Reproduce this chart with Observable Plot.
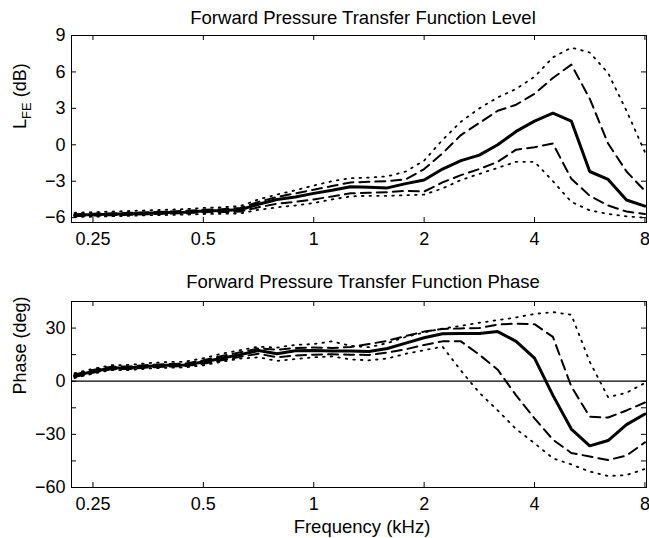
<!DOCTYPE html>
<html>
<head>
<meta charset="utf-8">
<script src="https://cdn.jsdelivr.net/npm/d3@7"></script>
<script src="https://cdn.jsdelivr.net/npm/@observablehq/plot@0.6"></script>
<style>
  body { margin: 0; background: #fff; }
  #chart svg { display: block; }
</style>
</head>
<body>
<div id="chart"></div>
<script>
// 1/6-octave analysis frequencies (kHz)
const freqKHz = [0.2227, 0.25, 0.2806, 0.315, 0.3536, 0.3969, 0.4454, 0.5, 0.5612, 0.63, 0.7071, 0.7937, 0.8909, 1, 1.1225, 1.2599, 1.4142, 1.5874, 1.7818, 2, 2.2449, 2.5198, 2.8284, 3.1748, 3.5636, 4, 4.4898, 5.0397, 5.6569, 6.3496, 7.1272, 8];
const xTickValues = [0.25, 0.5, 1, 2, 4, 8];
const xTickLabels = ["0.25", "0.5", "1", "2", "4", "8"];

// Level panel (dB)
const levelMean    = [-5.8, -5.75, -5.72, -5.68, -5.63, -5.58, -5.55, -5.45, -5.42, -5.35, -4.9, -4.5, -4.3, -4.0, -3.75, -3.45, -3.5, -3.55, -3.2, -2.9, -2.0, -1.3, -0.85, 0.0, 1.1, 1.95, 2.6, 1.95, -2.2, -2.85, -4.55, -5.05];
const levelPlusSD  = [-5.72, -5.68, -5.64, -5.6, -5.55, -5.5, -5.45, -5.35, -5.3, -5.2, -4.7, -4.3, -4.0, -3.7, -3.4, -3.1, -3.05, -3.0, -2.85, -2.0, -0.7, 0.8, 1.8, 2.8, 3.3, 4.2, 5.5, 6.6, 3.8, 0.1, -2.2, -3.8];
const levelMinusSD = [-5.88, -5.83, -5.8, -5.76, -5.72, -5.67, -5.64, -5.55, -5.54, -5.5, -5.15, -4.85, -4.7, -4.5, -4.25, -4.0, -3.95, -3.9, -3.8, -3.85, -3.1, -2.5, -2.0, -1.4, -0.4, -0.2, 0.1, -2.8, -4.2, -5.0, -5.5, -5.7];
const levelUpper   = [-5.6, -5.55, -5.5, -5.45, -5.4, -5.35, -5.3, -5.2, -5.15, -5.05, -4.5, -4.1, -3.75, -3.35, -3.0, -2.75, -2.7, -2.6, -2.2, -1.3, 0.4, 1.9, 3.0, 3.9, 4.6, 5.6, 7.2, 8.0, 7.6, 5.9, 2.8, -0.6];
const levelLower   = [-5.95, -5.92, -5.88, -5.85, -5.8, -5.78, -5.75, -5.7, -5.68, -5.65, -5.35, -5.15, -5.0, -4.8, -4.5, -4.25, -4.2, -4.2, -4.15, -4.1, -3.6, -2.9, -2.4, -1.9, -1.4, -1.4, -3.0, -4.7, -5.4, -5.7, -5.9, -6.0];
const levelTicks = [-6, -3, 0, 3, 6, 9];
const levelTickLabels = ["\u22126", "\u22123", "0", "3", "6", "9"];

// Phase panel (deg)
const phaseMean    = [3.0, 5.5, 7.5, 7.6, 8.5, 9.0, 9.2, 10.8, 13.0, 15.0, 17.3, 15.5, 17.2, 17.3, 17.0, 17.0, 16.8, 18.5, 21.5, 24.5, 26.8, 27.0, 27.0, 28.0, 22.5, 13.0, -8.0, -27.0, -36.5, -33.5, -24.5, -18.5];
const phasePlusSD  = [3.8, 6.3, 8.2, 8.3, 9.2, 9.7, 9.9, 11.8, 14.2, 16.3, 18.5, 17.8, 18.7, 19.0, 18.8, 19.3, 21.0, 22.8, 25.5, 28.0, 29.5, 29.8, 30.0, 32.0, 32.5, 32.2, 25.0, -3.0, -20.0, -20.5, -16.5, -12.0];
const phaseMinusSD = [2.3, 4.8, 6.8, 6.9, 7.8, 8.3, 8.5, 9.8, 11.8, 13.8, 15.5, 13.5, 14.5, 15.0, 15.2, 15.0, 14.8, 16.2, 18.0, 20.5, 22.5, 22.5, 15.0, 6.5, -8.0, -21.0, -33.0, -40.5, -42.5, -44.5, -42.0, -34.5];
const phaseUpper   = [4.5, 7.0, 9.0, 9.2, 10.2, 10.8, 11.0, 13.0, 15.5, 17.5, 19.5, 19.0, 20.5, 21.0, 22.5, 20.0, 19.2, 21.5, 25.0, 27.5, 29.7, 31.2, 33.0, 34.5, 36.0, 38.0, 39.0, 37.5, 11.0, -9.0, -6.5, -1.0];
const phaseLower   = [1.8, 4.3, 6.3, 6.3, 7.2, 7.6, 7.8, 9.0, 11.0, 12.8, 13.5, 11.5, 12.5, 13.5, 14.0, 12.3, 11.8, 12.8, 15.5, 17.5, 19.5, 6.0, -6.5, -16.5, -27.0, -35.0, -43.5, -47.0, -51.0, -53.5, -53.0, -49.5];
const phaseTickValues = [-60, -30, 0, 30];
const phaseTickLabels = ["\u221260", "\u221230", "0", "30"];
const phaseTicks = [-60, -45, -30, -15, 0, 15, 30, 45];

const W = 649, ML = 71, MR = 3;
const FONT = "'Liberation Sans', Arial, Helvetica, sans-serif";
const FS = 18;
const xDomain = [0.2185, 8.08];

const rows = (vals) => freqKHz.map((f, i) => ({f, v: vals[i]}));

function curves(mean, plus, minus, upper, lower) {
  const dot = {x: "f", y: "v", stroke: "black", strokeWidth: 1.8, strokeDasharray: "1.6,6"};
  const dash = {x: "f", y: "v", stroke: "black", strokeWidth: 2, strokeDasharray: "10,6"};
  return [
    Plot.line(rows(upper), dot),
    Plot.line(rows(lower), dot),
    Plot.line(rows(plus), dash),
    Plot.line(rows(minus), dash),
    Plot.line(rows(mean), {x: "f", y: "v", stroke: "black", strokeWidth: 3, strokeLinejoin: "miter"})
  ];
}

function panel(o) {
  const frameW = W - ML - MR;
  const frameH = o.height - o.marginTop - o.marginBottom;
  return Plot.plot({
    width: W, height: o.height,
    marginLeft: ML, marginRight: MR, marginTop: o.marginTop, marginBottom: o.marginBottom,
    style: {fontFamily: FONT, fontSize: FS + "px", color: "black", background: "white", overflow: "visible"},
    x: {type: "log", domain: xDomain, axis: null},
    y: {domain: o.yDomain, axis: null},
    marks: [
      o.zero ? Plot.ruleY([0], {stroke: "black", strokeWidth: 1.3}) : null,
      ...o.lines,
      Plot.frame({stroke: "black", strokeWidth: 1}),
      Plot.tickY(o.ticks, {y: d => d, stroke: "black", insetRight: frameW - 5}),
      Plot.tickY(o.ticks, {y: d => d, stroke: "black", insetLeft: frameW - 5}),
      Plot.tickX(xTickValues, {x: d => d, stroke: "black", insetTop: frameH - 5}),
      Plot.tickX(xTickValues, {x: d => d, stroke: "black", insetBottom: frameH - 5}),
      // y tick labels
      Plot.text(o.labelValues, {y: d => d, text: (d, i) => o.labels[i], frameAnchor: "left", dx: -6, textAnchor: "end", fontSize: FS}),
      // x tick labels
      Plot.text(xTickValues, {x: d => d, text: (d, i) => xTickLabels[i], frameAnchor: "bottom", dy: 10, lineAnchor: "top", fontSize: FS}),
      Plot.text([o.title], {text: d => d, frameAnchor: "top", dx: 4, dy: o.titleDy, lineAnchor: "bottom", fontSize: 18.5}),
      Plot.text([o.ylabel], {text: d => d, frameAnchor: "left", rotate: -90, dx: -51, fontSize: FS}),
      o.xlabel ? Plot.text([o.xlabel], {text: d => d, frameAnchor: "bottom", dx: 3, dy: 40, lineAnchor: "middle", fontSize: 18.5}) : null
    ]
  });
}

const levelPanel = panel({
  height: 260, marginTop: 35, marginBottom: 38, titleDy: -12,
  yDomain: [-6.4, 9], ticks: levelTicks, labelValues: levelTicks, labels: levelTickLabels,
  title: "Forward Pressure Transfer Function Level",
  ylabel: "L_FE (dB)",
  lines: curves(levelMean, levelPlusSD, levelMinusSD, levelUpper, levelLower)
});
const phasePanel = panel({
  height: 278, marginTop: 41, marginBottom: 51, titleDy: -14,
  yDomain: [-60, 45], ticks: phaseTicks, labelValues: phaseTickValues, labels: phaseTickLabels, zero: true,
  title: "Forward Pressure Transfer Function Phase",
  ylabel: "Phase (deg)", xlabel: "Frequency (kHz)",
  lines: curves(phaseMean, phasePlusSD, phaseMinusSD, phaseUpper, phaseLower)
});

// subscript for L_FE
d3.select(levelPanel).selectAll("text").filter(function () { return this.textContent === "L_FE (dB)"; })
  .each(function () {
    const t = d3.select(this);
    t.text(null);
    t.append("tspan").text("L");
    t.append("tspan").attr("dy", 5).attr("font-size", 13).text("FE");
    t.append("tspan").attr("dy", -5).text(" (dB)");
  });

document.getElementById("chart").append(levelPanel, phasePanel);
</script>
</body>
</html>
